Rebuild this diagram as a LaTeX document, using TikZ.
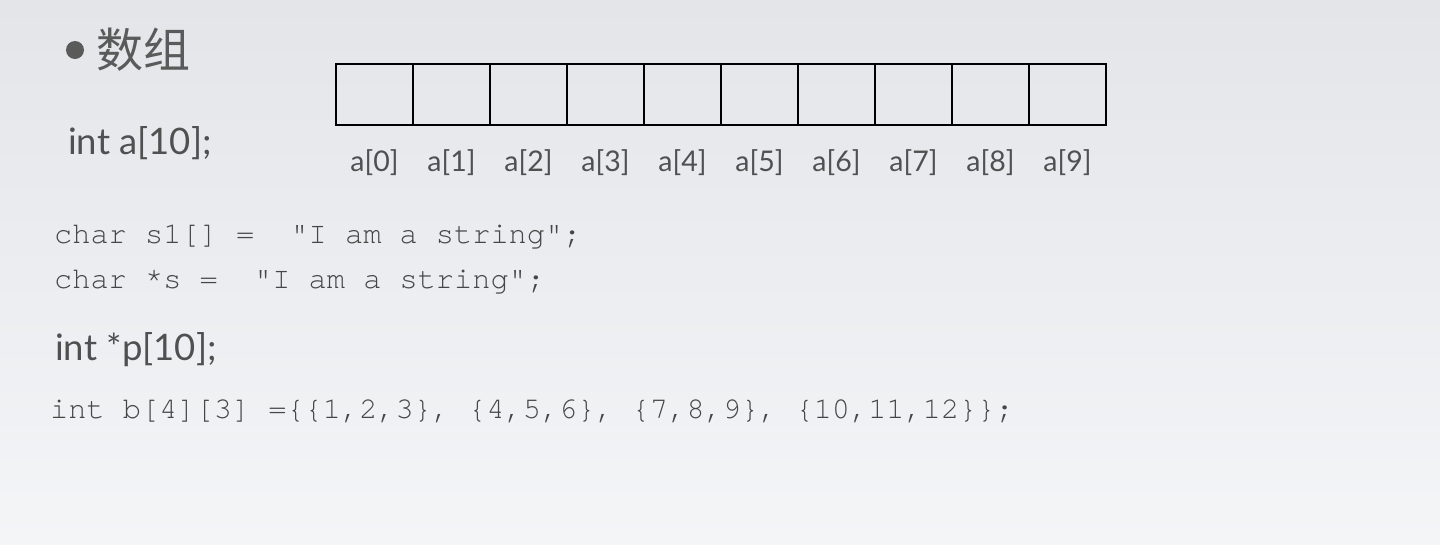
\documentclass[tikz,border=0pt]{standalone}
\usepackage{fontspec}
\setmainfont{Lato}
\newfontfamily\cjk{Noto Sans CJK SC}
\newfontfamily\mono{texgyrecursor-regular.otf}
\definecolor{bgtop}{RGB}{227,229,233}
\definecolor{bgbot}{RGB}{244,245,247}
\definecolor{txtgray}{RGB}{80,80,80}
\definecolor{codegray}{RGB}{70,70,70}
\definecolor{titlegray}{RGB}{90,90,90}
\begin{document}
\begin{tikzpicture}[x=1pt,y=-1pt,
  cell/.style={draw=black, line width=2pt, minimum width=77pt, minimum height=61pt, inner sep=0pt, outer sep=0pt, anchor=north west},
  idx/.style={font=\fontsize{28.5}{30}\selectfont, text=txtgray, inner sep=0pt},
  code/.style={font=\mono\fontsize{30.3}{32}\selectfont, text=codegray, anchor=west, inner sep=0pt},
  decl/.style={font=\fontsize{36.5}{40}\selectfont, text=txtgray, anchor=west, inner sep=0pt}]
\fill[top color=bgtop,bottom color=bgbot] (0,0) rectangle (1440,544);
\useasboundingbox (0,0) rectangle (1440,544);
% title
\node[circle, fill=titlegray, minimum size=18pt, inner sep=0pt] (bullet) at (75,50) {};
\node[anchor=west, font=\cjk\fontsize{47}{50}\selectfont, text=titlegray, inner sep=0pt] (title) at (96,50) {数组};
% array cells
\foreach \i in {0,...,9} {
  \node[cell] (c\i) at ({336+77*\i},64) {};
  \node[idx] (l\i) at ({336+77*\i+38.5},163) {a[\i]};
}
% declarations
\node[decl] (decla) at (68,143) {int a[10];};
\node[code] (s1) at (54,237) {char s1[] =\ \ "I am a string";};
\node[code] (s2) at (54,282) {char *s =\ \ "I am a string";};
\node[decl] (declp) at (55,350) {int *p[10];};
\node[code] (b2) at (50,411) {int b[4][3] =\{\{1,2,3\}, \{4,5,6\}, \{7,8,9\}, \{10,11,12\}\};};
\end{tikzpicture}
\end{document}
